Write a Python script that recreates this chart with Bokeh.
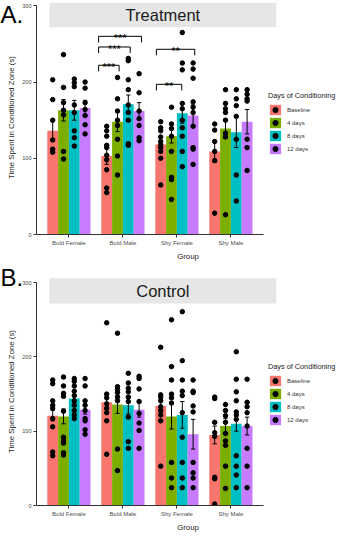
from bokeh.plotting import figure
from bokeh.models import (ColumnDataSource, Range1d, FixedTicker, Legend, LegendItem,
                          BoxAnnotation)
from bokeh.layouts import column
from bokeh.embed import file_html
from bokeh.resources import INLINE
from bokeh.core.properties import value

# ---------------- data ----------------
groups = ["Bold Female", "Bold Male", "Shy Female", "Shy Male"]
days = ["Baseline", "4 days", "8 days", "12 days"]
colors = ["#F8766D", "#7CAE00", "#00BFC4", "#C77CFF"]

# Treatment panel: means, standard errors and individual points per day
treat_mean_baseline = [136, 103, 118, 109]
treat_mean_4d = [163, 148, 129, 139]
treat_mean_8d = [163, 171, 159, 134]
treat_mean_12d = [166, 162, 156, 148]

treat_se_baseline = [12, 11, 5, 14]
treat_se_4d = [14, 13, 9, 12]
treat_se_8d = [13, 12, 13, 20]
treat_se_12d = [10, 11, 14, 16]

treat_pts_baseline = [[203, 177, 150, 124, 112, 108],
                      [142, 136, 129, 117, 114, 104, 98, 85, 61, 55],
                      [148, 140, 136, 128, 122, 118, 114, 109, 100, 65],
                      [145, 137, 122, 109, 97, 28]]
treat_pts_4d = [[236, 193, 173, 163, 157, 109, 99],
                [206, 178, 162, 150, 143, 125, 103, 78],
                [167, 145, 139, 129, 109, 75, 72, 46],
                [190, 172, 165, 160, 150, 133, 128, 26]]
treat_pts_8d = [[204, 199, 194, 170, 160, 136, 127, 116],
                [231, 228, 203, 190, 170, 160, 150, 119, 117],
                [265, 225, 216, 172, 165, 150, 140, 129, 109, 89],
                [190, 178, 169, 155, 125, 78, 44]]
treat_pts_12d = [[200, 192, 173, 164, 156, 144, 132],
                 [211, 186, 162, 152, 143, 127, 123],
                 [225, 217, 205, 174, 167, 160, 142, 114, 112, 92],
                 [190, 184, 178, 175, 125, 114, 84]]

# Control panel
ctrl_mean_baseline = [121, 139, 134, 95]
ctrl_mean_4d = [120, 136, 120, 107]
ctrl_mean_8d = [144, 135, 122, 110]
ctrl_mean_12d = [129, 129, 96, 107]

ctrl_se_baseline = [7, 10, 8, 12]
ctrl_se_4d = [10, 12, 17, 10]
ctrl_se_8d = [5, 12, 18, 10]
ctrl_se_12d = [6, 10, 20, 12]

ctrl_pts_baseline = [[169, 164, 141, 135, 131, 117, 106, 72, 67],
                     [246, 150, 145, 137, 131, 125, 114, 69],
                     [213, 149, 146, 141, 133, 128, 122, 114, 53],
                     [146, 144, 112, 98, 93, 38, 36, 2]]
ctrl_pts_4d = [[173, 161, 151, 147, 127, 92, 87, 84, 71, 68],
               [232, 160, 156, 152, 146, 141, 76, 47],
               [250, 187, 169, 150, 145, 138, 58, 37, 24],
               [136, 128, 121, 112, 97, 87, 81, 53, 23]]
ctrl_pts_8d = [[171, 167, 161, 154, 148, 141, 135, 128, 122, 117],
               [178, 165, 158, 153, 146, 140, 119, 86, 77],
               [261, 195, 169, 154, 148, 125, 92, 58, 37, 24],
               [207, 170, 153, 141, 126, 122, 116, 67, 53, 41, 24]]
ctrl_pts_12d = [[171, 161, 141, 135, 128, 117, 114, 102, 96],
                [174, 171, 157, 140, 124, 111, 101, 77],
                [169, 154, 152, 134, 126, 58, 44, 37, 24],
                [170, 139, 133, 125, 107, 77, 53, 24]]

# significance brackets (Treatment panel)
bracket_group = [2, 2, 2, 3, 3]
bracket_x0 = [-0.45, -0.45, -0.45, -0.38, -0.38]
bracket_x1 = [-0.07, 0.135, 0.345, 0.09, 0.33]
bracket_y = [222, 246, 260, 197, 243]
bracket_label = ["***", "***", "***", "**", "**"]

y_ticks = [0, 100, 200, 300]

# ---------------- styling ----------------
FONT = "Liberation Sans"
offsets = [-0.3, -0.1, 0.1, 0.3]
BAR_W = 0.2
CAP = 0.04
LEG_DROP = 8
FIG_W = 339
LEFT = 36
PX_PER_UNIT = 54.0           # horizontal scale of the panel
FRAME_W = FIG_W - LEFT        # frame also holds the legend area
FRAME_H = 234
Y_TOP = 307                   # room for the facet strip above 300
X0 = 0.4
X1 = X0 + FRAME_W / PX_PER_UNIT


def make_panel(letter, strip_text, means, ses, points, brackets,
               height, top_border, strip_top, strip_text_y):
    bottom_border = height - top_border - FRAME_H
    p = figure(width=FIG_W, height=height, x_range=Range1d(X0, X1),
               y_range=Range1d(0, Y_TOP), output_backend="svg",
               toolbar_location=None, min_border_left=LEFT,
               min_border_right=0,
               min_border_top=top_border, min_border_bottom=bottom_border)
    p.outline_line_color = None
    p.grid.visible = False
    p.background_fill_color = "white"
    p.border_fill_color = "white"

    # facet strip
    p.add_layout(BoxAnnotation(left=0.64, right=4.84, bottom=272, top=strip_top,
                               fill_color="#e6e6e6", fill_alpha=1.0,
                               line_color=None, level="underlay"))
    p.text(x=[2.74], y=[strip_text_y], text=[strip_text], text_align="center",
           text_baseline="middle", text_font=value(FONT),
           text_font_size="16.5px", text_color="#1a1a1a")

    # panel letter in the top-left corner (outside the frame)
    p.text(x=[X0 - LEFT / PX_PER_UNIT], y=[Y_TOP + top_border / (FRAME_H / Y_TOP)],
           text=[letter], text_align="left", text_baseline="top",
           text_font=value(FONT), text_font_size="24px", text_color="black",
           level="overlay")

    items = []
    for k, day in enumerate(days):
        xs = [g + 1 + offsets[k] for g in range(len(groups))]
        lo = [m - s for m, s in zip(means[k], ses[k])]
        hi = [m + s for m, s in zip(means[k], ses[k])]
        src = ColumnDataSource(dict(x=xs, top=means[k], lo=lo, hi=hi,
                                    xl=[x - CAP for x in xs], xr=[x + CAP for x in xs]))
        r_bar = p.vbar(x="x", top="top", bottom=0, width=BAR_W, source=src,
                       fill_color=colors[k], line_color=None)
        p.segment(x0="x", y0="lo", x1="x", y1="hi", source=src,
                  line_color="black", line_width=1)
        p.segment(x0="xl", y0="hi", x1="xr", y1="hi", source=src,
                  line_color="black", line_width=1)
        p.segment(x0="xl", y0="lo", x1="xr", y1="lo", source=src,
                  line_color="black", line_width=1)
        px, py = [], []
        for g, vals in enumerate(points[k]):
            px += [xs[g]] * len(vals)
            py += vals
        r_pts = p.scatter(x=px, y=py, size=4.5, color="black")
        items.append(LegendItem(label=day, renderers=[r_bar, r_pts]))

    if brackets:
        bx, by, tx, ty, tt = [], [], [], [], []
        for g, x0, x1, y, lab in zip(*brackets):
            a, b = g + x0, g + x1
            bx.append([a, a, b, b])
            by.append([y - LEG_DROP, y, y, y - LEG_DROP])
            tx.append((a + b) / 2)
            ty.append(y - 2)
            tt.append(lab)
        p.multi_line(xs=bx, ys=by, line_color="black", line_width=1)
        p.text(x=tx, y=ty, text=tt, text_align="center", text_baseline="alphabetic",
               text_font=value(FONT), text_font_size="11px", text_color="black")

    legend = Legend(items=items, location=(232, 79), title="Days of Conditioning",
                    title_text_font=FONT, title_text_font_size="7.3px",
                    title_text_font_style="normal", title_text_color="#1a1a1a",
                    title_standoff=3,
                    label_text_font=FONT, label_text_font_size="6px",
                    label_text_color="#333333", label_standoff=5,
                    glyph_width=14, glyph_height=13, label_height=13,
                    spacing=0, padding=2, margin=0,
                    border_line_color=None, background_fill_alpha=0)
    p.add_layout(legend, "center")

    # axes
    p.xaxis.ticker = FixedTicker(ticks=[1, 2, 3, 4])
    p.xaxis.major_label_overrides = {i + 1: g for i, g in enumerate(groups)}
    p.xaxis.bounds = (X0, 4.6)
    p.yaxis.ticker = FixedTicker(ticks=y_ticks)
    p.yaxis.bounds = (0, 300)
    p.xaxis.axis_label = "Group"
    p.yaxis.axis_label = "Time Spent in Conditioned Zone (s)"
    for ax in (p.xaxis, p.yaxis):
        ax.axis_line_color = "#333333"
        ax.axis_line_width = 1
        ax.major_tick_line_color = "#333333"
        ax.major_tick_out = 3
        ax.major_tick_in = 0
        ax.minor_tick_out = 0
        ax.minor_tick_in = 0
        ax.major_label_text_font = FONT
        ax.major_label_text_color = "#4d4d4d"
        ax.major_label_standoff = 2
        ax.axis_label_text_font = FONT
        ax.axis_label_text_font_size = "7.8px"
        ax.axis_label_text_font_style = "normal"
        ax.axis_label_text_color = "#1a1a1a"
        ax.axis_label_standoff = 3
    p.xaxis.major_label_text_font_size = "6px"
    p.yaxis.major_label_text_font_size = "5.6px"
    return p


treat_means = [treat_mean_baseline, treat_mean_4d, treat_mean_8d, treat_mean_12d]
treat_ses = [treat_se_baseline, treat_se_4d, treat_se_8d, treat_se_12d]
treat_pts = [treat_pts_baseline, treat_pts_4d, treat_pts_8d, treat_pts_12d]
ctrl_means = [ctrl_mean_baseline, ctrl_mean_4d, ctrl_mean_8d, ctrl_mean_12d]
ctrl_ses = [ctrl_se_baseline, ctrl_se_4d, ctrl_se_8d, ctrl_se_12d]
ctrl_pts = [ctrl_pts_baseline, ctrl_pts_4d, ctrl_pts_8d, ctrl_pts_12d]

p1 = make_panel("A.", "Treatment", treat_means, treat_ses, treat_pts,
                (bracket_group, bracket_x0, bracket_x1, bracket_y, bracket_label),
                height=263, top_border=0, strip_top=304, strip_text_y=288)
p2 = make_panel("B.", "Control", ctrl_means, ctrl_ses, ctrl_pts, None,
                height=271, top_border=14, strip_top=306, strip_text_y=289)

layout = column(p1, p2, spacing=0)
open("out.html", "w").write(file_html(layout, INLINE))
